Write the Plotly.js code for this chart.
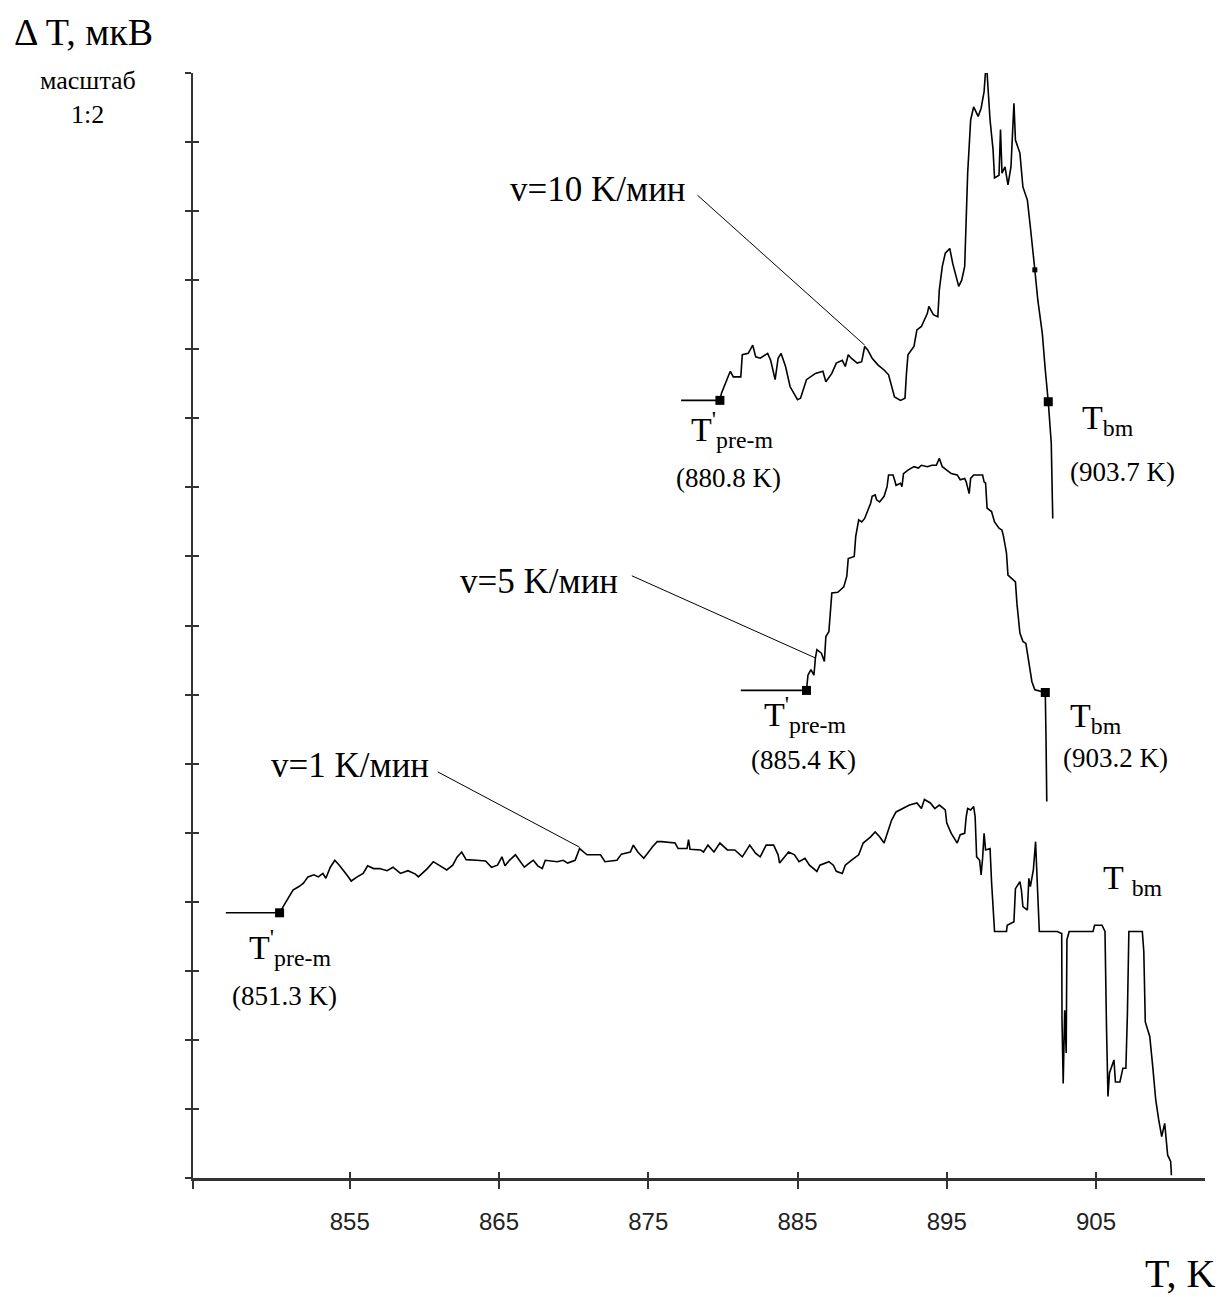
<!DOCTYPE html>
<html>
<head>
<meta charset="utf-8">
<script src="https://cdn.plot.ly/plotly-3.0.1.min.js"></script>
<style>html,body{margin:0;padding:0;background:#fff;}#chart{width:1223px;height:1297px;}</style>
</head>
<body>
<div id="chart"></div>
<script>
// ---- data (T in K, ΔT in axis-tick units) ----
const v10_T = [877.2, 879.8, 879.9, 880.1, 880.4, 880.5, 880.7, 881.2, 881.3, 881.7,
  882.0, 882.2, 882.5, 883.0, 883.2, 883.5, 883.7, 883.9, 884.2, 884.5,
  885.0, 885.2, 885.4, 885.6, 886.2, 886.7, 886.9, 887.3, 887.6, 888.0,
  888.2, 888.4, 888.6, 889.0, 889.3, 889.5, 889.7, 890.0, 890.4, 890.8,
  891.1, 891.3, 891.5, 891.9, 892.2, 892.3, 892.4, 892.8, 893.0, 893.3,
  893.7, 893.8, 894.1, 894.4, 894.5, 894.7, 894.9, 895.2, 895.4, 895.8,
  896.0, 896.2, 896.3, 896.4, 896.6, 896.8, 897.0, 897.1, 897.3, 897.5,
  897.6, 897.7, 897.9, 898.1, 898.2, 898.5, 898.6, 898.7, 898.9, 899.1,
  899.3, 899.5, 899.6, 899.9, 900.1, 900.4, 900.6, 900.8, 900.9, 901.1,
  901.4, 901.6, 901.8, 902.0, 902.1];
const v10_dT = [11.26, 11.26, 11.36, 11.48, 11.63, 11.68, 11.60, 11.60, 11.92, 11.94,
  12.06, 11.89, 11.87, 11.94, 11.84, 11.56, 11.87, 11.94, 11.75, 11.46,
  11.27, 11.29, 11.41, 11.56, 11.65, 11.68, 11.53, 11.65, 11.80, 11.84,
  11.75, 11.92, 11.87, 11.80, 11.82, 12.04, 11.99, 11.87, 11.77, 11.70,
  11.63, 11.46, 11.31, 11.26, 11.29, 11.65, 11.92, 12.04, 12.28, 12.33,
  12.52, 12.62, 12.50, 12.47, 12.86, 13.20, 13.39, 13.46, 13.24, 12.91,
  13.00, 13.20, 13.87, 14.55, 15.32, 15.51, 15.42, 15.37, 15.49, 15.73,
  16.04, 16.00, 15.32, 14.89, 14.48, 14.52, 15.18, 14.55, 14.64, 14.38,
  14.64, 15.56, 15.03, 14.84, 14.35, 14.16, 13.77, 13.39, 13.15, 12.71,
  12.23, 11.70, 11.24, 10.64, 9.55];

const v5_T = [881.2, 885.6, 885.7, 885.9, 886.1, 886.2, 886.3, 886.6, 886.8, 886.9,
  887.1, 887.3, 887.7, 888.1, 888.3, 888.4, 888.8, 888.9, 889.1, 889.3,
  889.5, 889.7, 889.9, 890.0, 890.2, 890.3, 890.5, 890.8, 891.0, 891.1,
  891.4, 891.5, 891.6, 891.9, 892.0, 892.1, 892.4, 892.8, 893.1, 893.3,
  893.7, 894.0, 894.3, 894.5, 894.7, 895.0, 895.3, 895.7, 895.9, 896.2,
  896.3, 896.5, 896.6, 896.8, 897.1, 897.4, 897.5, 897.6, 897.7, 898.0,
  898.2, 898.5, 898.7, 898.8, 899.0, 899.1, 899.6, 899.7, 899.9, 900.1,
  900.3, 900.5, 900.7, 900.9, 901.6, 901.65, 901.7];
const v5_dT = [7.06, 7.06, 7.28, 7.36, 7.28, 7.53, 7.65, 7.60, 7.48, 7.84,
  7.91, 8.47, 8.48, 8.56, 8.71, 8.97, 9.00, 9.29, 9.53, 9.50,
  9.55, 9.67, 9.77, 9.87, 9.89, 9.82, 9.79, 9.87, 10.01, 10.18,
  10.18, 10.11, 10.03, 10.06, 10.01, 10.20, 10.25, 10.30, 10.28, 10.32,
  10.30, 10.32, 10.32, 10.42, 10.30, 10.25, 10.20, 10.18, 10.11, 10.13,
  10.08, 9.91, 10.13, 10.18, 10.18, 10.18, 10.08, 10.06, 9.70, 9.65,
  9.50, 9.41, 9.38, 9.29, 9.05, 8.73, 8.63, 8.32, 7.89, 7.77,
  7.74, 7.48, 7.19, 7.07, 7.03, 6.34, 5.45];

const v1_T = [846.7, 850.3, 850.6, 850.9, 851.2, 851.6, 851.9, 852.2, 852.6, 852.9,
  853.2, 853.4, 853.7, 854.0, 854.3, 854.8, 855.1, 855.5, 855.9, 856.2,
  856.6, 857.0, 857.5, 857.9, 858.4, 858.9, 859.4, 859.6, 860.2, 860.6,
  861.0, 861.5, 861.9, 862.2, 862.5, 862.8, 863.5, 864.1, 864.5, 864.9,
  865.2, 865.4, 865.7, 866.1, 866.4, 866.7, 867.1, 867.3, 867.6, 867.9,
  868.1, 868.9, 869.3, 869.6, 870.1, 870.4, 870.9, 871.8, 872.1, 872.9,
  873.2, 873.8, 874.0, 874.3, 874.7, 875.0, 875.3, 875.6, 875.9, 876.8,
  877.0, 877.6, 877.7, 877.8, 878.5, 878.7, 879.0, 879.4, 879.8, 880.3,
  880.8, 881.3, 881.8, 882.2, 882.5, 882.9, 883.4, 883.7, 883.8, 884.4,
  884.8, 885.1, 885.5, 885.8, 886.3, 886.5, 887.1, 887.4, 887.6, 888.0,
  888.2, 888.6, 889.1, 889.4, 889.9, 890.2, 890.5, 890.8, 891.0, 891.2,
  891.3, 891.6, 892.1, 892.5, 893.0, 893.3, 893.5, 893.9, 894.2, 894.5,
  894.9, 895.0, 895.3, 895.7, 895.9, 896.2, 896.3, 896.4, 896.6, 896.8,
  896.9, 897.0, 897.2, 897.3, 897.4, 897.5, 897.6, 897.9, 898.0, 898.1,
  898.2, 899.0, 899.05, 899.5, 899.6, 899.9, 900.0, 900.1, 900.4, 900.5,
  900.6, 900.8, 900.9, 900.95, 901.0, 901.1, 901.2, 902.4, 902.7, 902.72,
  902.8, 902.9, 903.0, 903.05, 903.2, 904.8, 904.9, 905.4, 905.6, 905.7,
  905.8, 905.9, 906.2, 906.3, 906.6, 906.8, 907.0, 907.1, 907.2, 908.1,
  908.2, 908.3, 908.6, 908.8, 909.0, 909.2, 909.4, 909.6, 909.8, 910.0, 910.05];
const v1_dT = [3.84, 3.84, 3.95, 4.07, 4.17, 4.22, 4.27, 4.36, 4.39, 4.36,
  4.41, 4.34, 4.50, 4.60, 4.53, 4.39, 4.30, 4.36, 4.41, 4.52,
  4.48, 4.48, 4.45, 4.50, 4.41, 4.45, 4.40, 4.36, 4.48, 4.58,
  4.53, 4.46, 4.53, 4.65, 4.72, 4.61, 4.60, 4.59, 4.50, 4.53,
  4.65, 4.52, 4.60, 4.68, 4.59, 4.50, 4.57, 4.60, 4.52, 4.48,
  4.60, 4.58, 4.60, 4.56, 4.60, 4.77, 4.68, 4.68, 4.58, 4.60,
  4.69, 4.72, 4.82, 4.72, 4.63, 4.72, 4.80, 4.87, 4.87, 4.85,
  4.77, 4.77, 4.90, 4.76, 4.75, 4.72, 4.82, 4.72, 4.85, 4.75,
  4.75, 4.65, 4.82, 4.70, 4.65, 4.82, 4.82, 4.68, 4.56, 4.72,
  4.68, 4.58, 4.63, 4.53, 4.44, 4.53, 4.58, 4.53, 4.44, 4.41,
  4.53, 4.60, 4.68, 4.85, 4.94, 5.01, 4.94, 4.85, 4.97, 5.11,
  5.18, 5.30, 5.35, 5.40, 5.43, 5.35, 5.48, 5.43, 5.35, 5.40,
  5.33, 5.14, 4.99, 4.85, 4.97, 4.99, 5.23, 5.35, 5.33, 5.38,
  5.23, 4.65, 4.60, 4.39, 4.63, 4.99, 4.75, 4.77, 4.29, 3.83,
  3.57, 3.57, 3.66, 3.71, 4.19, 4.29, 4.17, 3.93, 3.88, 4.34,
  4.22, 4.46, 4.80, 4.87, 4.60, 4.00, 3.57, 3.57, 3.54, 2.29,
  1.37, 2.43, 1.81, 3.45, 3.57, 3.57, 3.66, 3.66, 3.57, 2.19,
  1.18, 1.52, 1.71, 1.39, 1.39, 1.59, 1.59, 2.36, 3.57, 3.57,
  3.28, 2.26, 2.05, 1.61, 1.13, 0.84, 0.60, 0.79, 0.33, 0.24, 0.04];

// characteristic points (square markers)
const mark_T = [850.3, 885.6, 901.6, 879.8, 901.8];
const mark_dT = [3.84, 7.06, 7.03, 11.26, 11.24];
const minor_T = [900.9];
const minor_dT = [13.15];

// tick labels
const xTicks = [855, 865, 875, 885, 895, 905];
const xTickText = ['855', '865', '875', '885', '895', '905'];

// curve labels and leader lines
const rateText = ['v=10 K/мин', 'v=5 K/мин', 'v=1 K/мин'];
const rateT = [871.6, 867.7, 855.0];
const rateY = [14.31, 8.63, 5.98];
const leadTipT = [889.5, 886.2, 870.4];
const leadTipY = [12.06, 7.53, 4.79];
const leadTailT = [878.3, 873.9, 860.9];
const leadTailY = [14.23, 8.72, 5.88];

const preText = "T<sup>'</sup><sub>pre-m</sub>";
const preT = [848.1, 882.6, 877.7];
const preY = [3.34, 6.71, 10.84];

const valText = ['(851.3 K)', '(885.4 K)', '(880.8 K)', '(903.7 K)', '(903.2 K)'];
const valT = [850.6, 885.4, 880.4, 906.8, 906.3];
const valY = [2.64, 6.05, 10.14, 10.22, 6.08];

const bmText = ['T<sub>bm</sub>', 'T<sub>bm</sub>', 'T <sub>bm</sub>'];
const bmT = [903.9, 903.1, 905.3];
const bmY = [10.98, 6.66, 4.32];

// ---- figure ----
const SERIF = 'Liberation Serif, Times New Roman, serif';
const lineStyle = {color: '#000', width: 1.6};

const traces = [
  {x: v1_T, y: v1_dT, mode: 'lines', line: lineStyle, name: 'v=1'},
  {x: v5_T, y: v5_dT, mode: 'lines', line: lineStyle, name: 'v=5'},
  {x: v10_T, y: v10_dT, mode: 'lines', line: lineStyle, name: 'v=10'}
];
// leader lines from each rate label to its curve
for (let i = 0; i < leadTipT.length; i++) {
  traces.push({x: [leadTailT[i], leadTipT[i]], y: [leadTailY[i], leadTipY[i]],
    mode: 'lines', line: {color: '#000', width: 1}, name: 'leader ' + rateText[i]});
}
traces.push({x: mark_T, y: mark_dT, mode: 'markers', xaxis: 'x2', yaxis: 'y2',
  marker: {symbol: 'square', size: 9, color: '#000'}, name: 'points'});
traces.push({x: minor_T, y: minor_dT, mode: 'markers', xaxis: 'x2', yaxis: 'y2',
  marker: {symbol: 'square', size: 5, color: '#000'}, name: 'minor'});

const ann = [];
for (let i = 0; i < rateText.length; i++) {
  ann.push({x: rateT[i], y: rateY[i], text: rateText[i], showarrow: false,
    font: {family: SERIF, size: 35, color: '#000'}});
}
for (let i = 0; i < preT.length; i++) {
  ann.push({x: preT[i], y: preY[i], text: preText, showarrow: false,
    xanchor: 'left', yanchor: 'middle', font: {family: SERIF, size: 34, color: '#000'}});
}
for (let i = 0; i < valText.length; i++) {
  ann.push({x: valT[i], y: valY[i], text: valText[i], showarrow: false,
    font: {family: SERIF, size: 27, color: '#000'}});
}
for (let i = 0; i < bmText.length; i++) {
  ann.push({x: bmT[i], y: bmY[i], text: bmText[i], showarrow: false,
    xanchor: 'left', yanchor: 'middle', font: {family: SERIF, size: 34, color: '#000'}});
}
const paperText = ['Δ T, мкВ', 'масштаб', '1:2', 'T, K'];
const paperX = [-0.108, -0.104, -0.104, 0.975];
const paperY = [1.037, 0.9928, 0.962, -0.086];
const paperSize = [38, 26, 26, 40];
for (let i = 0; i < paperText.length; i++) {
  ann.push({xref: 'paper', yref: 'paper', x: paperX[i], y: paperY[i], text: paperText[i],
    xanchor: 'center', yanchor: 'middle', showarrow: false,
    font: {family: SERIF, size: paperSize[i], color: '#000'}});
}

const xRange = [844.5, 912.3];
const yRange = [0, 16];
const layout = {
  width: 1223, height: 1297,
  margin: {l: 193, r: 18, t: 73, b: 119, pad: 0},
  paper_bgcolor: '#fff', plot_bgcolor: '#fff',
  showlegend: false,
  xaxis: {range: xRange, showline: true, linecolor: '#333', linewidth: 2.5,
    ticks: 'outside', ticklen: 8, tickwidth: 2, tickcolor: '#333',
    tickmode: 'array', tickvals: [xRange[0]].concat(xTicks), ticktext: [' '].concat(xTickText),
    tickfont: {family: 'Liberation Sans, Arial, sans-serif', size: 24, color: '#222'},
    ticklabelstandoff: 13,
    showgrid: false, zeroline: false},
  xaxis2: {range: xRange, overlaying: 'x', anchor: 'y2', side: 'bottom',
    ticks: 'inside', ticklen: 6, tickwidth: 2, tickcolor: '#333',
    tickmode: 'array', tickvals: xTicks, showticklabels: false,
    showline: false, showgrid: false, zeroline: false},
  yaxis: {range: yRange, showline: true, linecolor: '#333', linewidth: 2.5,
    ticks: 'outside', ticklen: 6, tickwidth: 2, tickcolor: '#333',
    tick0: 0, dtick: 1, showticklabels: false, showgrid: false, zeroline: false},
  yaxis2: {range: yRange, overlaying: 'y', anchor: 'x2', side: 'left',
    ticks: 'inside', ticklen: 6, tickwidth: 2, tickcolor: '#333',
    tick0: 0, dtick: 1, showticklabels: false, showline: false, showgrid: false, zeroline: false},
  annotations: ann
};

Plotly.newPlot('chart', traces, layout, {displayModeBar: false, staticPlot: true});
</script>
</body>
</html>
